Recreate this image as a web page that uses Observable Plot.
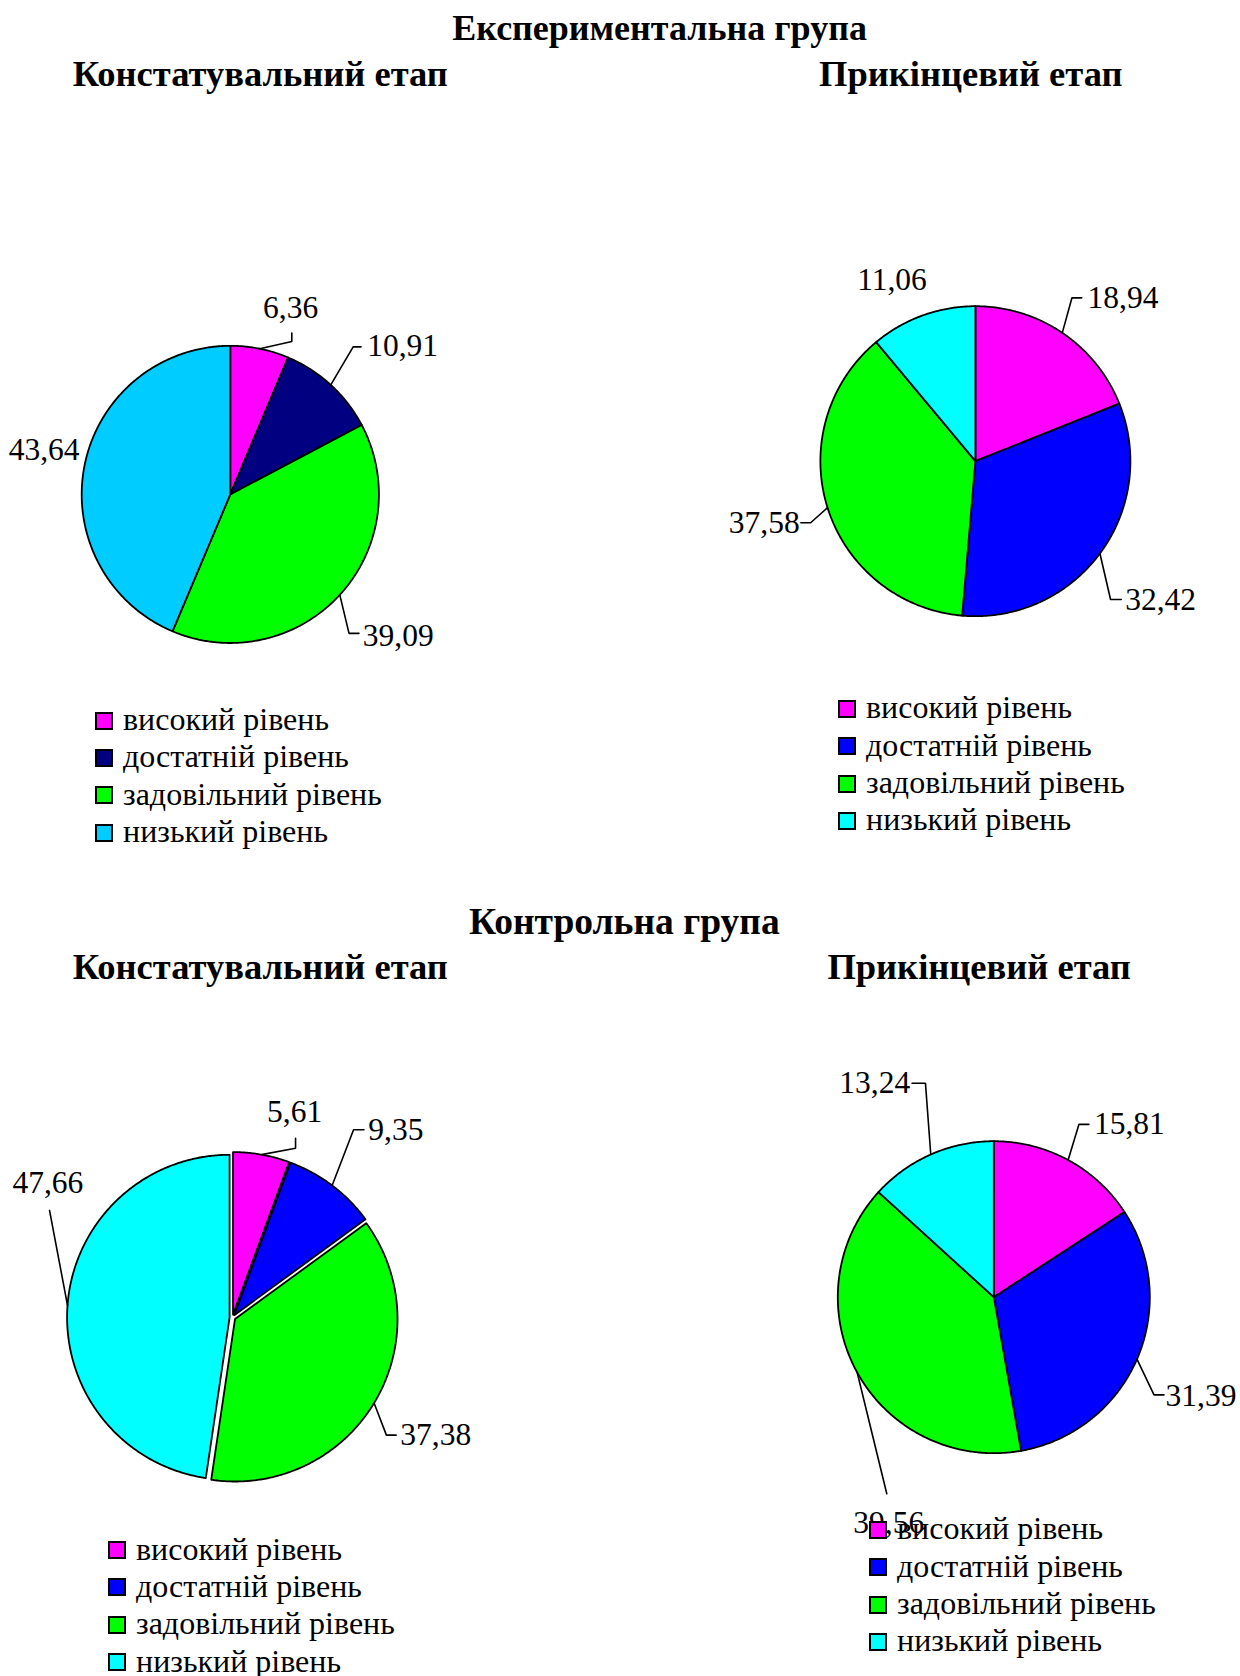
<!DOCTYPE html>
<html lang="uk">
<head>
<meta charset="utf-8">
<title>Рівні сформованості: експериментальна та контрольна групи</title>
<script src="https://cdn.jsdelivr.net/npm/d3@7"></script>
<script src="https://cdn.jsdelivr.net/npm/@observablehq/plot@0.6"></script>
<style>
  html, body { margin: 0; padding: 0; background: #fff; }
  #page {
    position: relative; width: 1240px; height: 1676px; overflow: hidden;
    font-family: "Liberation Serif", "Times New Roman", serif; color: #000;
  }
  .title { position: absolute; font-weight: bold; font-size: 36.5px; line-height: 1; white-space: nowrap; }
  .title.group { font-size: 36px; }
  .title.group.second { font-size: 37.5px; }
  .center { transform: translateX(-50%); }
  .panel { position: absolute; }
  .legend-row {
    position: absolute; display: flex; align-items: center; height: 38px;
    font-size: 32px; white-space: nowrap;
  }
  .swatch {
    box-sizing: border-box; width: 18px; height: 18px; border: 2px solid #000;
    margin-right: 10px; flex: none; position: relative; top: 1px;
  }
</style>
</head>
<body>
<div id="page"></div>
<script>
// Рівні сформованості (однакові для всіх діаграм)
const levels = ["високий рівень", "достатній рівень", "задовільний рівень", "низький рівень"];

// Експериментальна група, %
const egInitial = [6.36, 10.91, 39.09, 43.64];
const egFinal = [18.94, 32.42, 37.58, 11.06];

// Контрольна група, %
const cgInitial = [5.61, 9.35, 37.38, 47.66];
const cgFinal = [15.81, 31.39, 39.56, 13.24];

// Кольори секторів
const paletteEgInitial = ["#ff00ff", "#000080", "#00ff00", "#00ccff"];
const paletteDefault = ["#ff00ff", "#0000ff", "#00ff00", "#00ffff"];

const groupTitles = ["Експериментальна група", "Контрольна група"];
const stageTitles = ["Констатувальний етап", "Прикінцевий етап"];

const fmt = v => v.toFixed(2).replace(".", ",");
const FONT = "Liberation Serif, Times New Roman, serif";

// Розміщення діаграм на сторінці. Координати підписів задано в одиницях радіуса
// (y догори); path — ламана виноски від краю сектора до підпису.
const panels = [
  {
    values: egInitial, colors: paletteEgInitial, explode: 0,
    box: {left: 0, top: 250, width: 620, height: 450}, cx: 229.8, cy: 493.9, r: 148.6,
    labels: [
      {x: 0.406, y: 1.252, anchor: "middle", path: [[0.414, 1.029], [0.414, 1.086]]},
      {x: 0.921, y: 0.996, anchor: "start", path: [[0.827, 0.993], [0.880, 0.993]]},
      {x: 0.892, y: -0.950, anchor: "start", path: [[0.799, -0.935], [0.866, -0.935]]},
      {x: -1.014, y: 0.299, anchor: "end", path: null}
    ],
    legend: {left: 95, top: 719.5}
  },
  {
    values: egFinal, colors: paletteDefault, explode: 0,
    box: {left: 620, top: 230, width: 620, height: 420}, cx: 974.9, cy: 460.7, r: 155,
    labels: [
      {x: 0.724, y: 1.055, anchor: "start", path: [[0.623, 1.054], [0.686, 1.054]]},
      {x: 0.966, y: -0.897, anchor: "start", path: [[0.872, -0.892], [0.941, -0.892]]},
      {x: -1.134, y: -0.400, anchor: "end", path: [[-1.063, -0.397], [-1.126, -0.397]]},
      {x: -0.538, y: 1.172, anchor: "middle", path: null}
    ],
    legend: {left: 838, top: 707.7}
  },
  {
    values: cgInitial, colors: paletteDefault, explode: 0.018,
    box: {left: 0, top: 1080, width: 620, height: 420}, cx: 232, cy: 1317, r: 162.5,
    labels: [
      {x: 0.382, y: 1.265, anchor: "middle", path: [[0.388, 1.041], [0.388, 1.103]]},
      {x: 0.836, y: 1.155, anchor: "start", path: [[0.745, 1.155], [0.809, 1.155]]},
      {x: 1.033, y: -0.724, anchor: "start", path: [[0.947, -0.724], [1.007, -0.724]]},
      {x: -1.136, y: 0.826, anchor: "middle", path: [[-1.126, 0.659]]}
    ],
    legend: {left: 108, top: 1549}
  },
  {
    values: cgFinal, colors: paletteDefault, explode: 0,
    box: {left: 620, top: 1040, width: 620, height: 520}, cx: 993.3, cy: 1296.7, r: 156,
    labels: [
      {x: 0.642, y: 1.110, anchor: "start", path: [[0.546, 1.108], [0.610, 1.108]]},
      {x: 1.101, y: -0.630, anchor: "start", path: [[1.027, -0.626], [1.091, -0.626]]},
      {x: -0.673, y: -1.445, anchor: "middle", path: [[-0.686, -1.260]]},
      {x: -0.536, y: 1.373, anchor: "end", path: [[-0.438, 1.371], [-0.524, 1.371]]}
    ],
    legend: {left: 869, top: 1528.7}
  }
];

const page = document.getElementById("page");

function addTitle(text, left, top, cls) {
  const el = document.createElement("div");
  el.className = "title " + cls;
  el.style.left = left + "px";
  el.style.top = top + "px";
  el.textContent = text;
  page.appendChild(el);
}

function pieChart(p) {
  const rows = p.values.map((value, i) => ({level: levels[i], value}));
  const arcs = d3.pie().sort(null).value(d => d.value)(rows);

  // Сектори як замкнені багатокутники в одиницях радіуса
  const slicePoints = [];
  const leaderPoints = [];
  const labelRows = [];
  arcs.forEach((a, i) => {
    const level = a.data.level;
    const mid = (a.startAngle + a.endAngle) / 2;
    const ox = p.explode * Math.sin(mid), oy = p.explode * Math.cos(mid);
    const n = Math.max(2, Math.ceil((a.endAngle - a.startAngle) / (Math.PI / 360)));
    slicePoints.push({level, x: ox, y: oy});
    for (let k = 0; k <= n; k++) {
      const t = a.startAngle + (a.endAngle - a.startAngle) * k / n;
      slicePoints.push({level, x: ox + Math.sin(t), y: oy + Math.cos(t)});
    }
    const lab = p.labels[i];
    labelRows.push({x: lab.x, y: lab.y, anchor: lab.anchor, text: fmt(a.data.value)});
    if (lab.path) {
      leaderPoints.push({id: level, x: ox + Math.sin(mid), y: oy + Math.cos(mid)});
      lab.path.forEach(([x, y]) => leaderPoints.push({id: level, x, y}));
    }
  });

  const {left, top, width, height} = p.box;
  const x0 = (left - p.cx) / p.r, x1 = (left + width - p.cx) / p.r;
  const y0 = (p.cy - top - height) / p.r, y1 = (p.cy - top) / p.r;

  const textMark = anchor => Plot.text(labelRows.filter(d => d.anchor === anchor), {
    x: "x", y: "y", text: "text", textAnchor: anchor, lineAnchor: "middle",
    fontSize: 31.5, fontFamily: FONT, fill: "#000"
  });

  const svg = Plot.plot({
    width, height,
    margin: 0,
    x: {domain: [x0, x1], axis: null},
    y: {domain: [y0, y1], axis: null},
    color: {type: "ordinal", domain: levels, range: p.colors},
    style: {background: "transparent", overflow: "visible"},
    marks: [
      Plot.line(slicePoints, {
        x: "x", y: "y", z: "level", fill: "level", stroke: "#000",
        strokeWidth: 1.8, curve: "linear-closed", strokeLinejoin: "round"
      }),
      Plot.line(leaderPoints, {
        x: "x", y: "y", z: "id", stroke: "#000", strokeWidth: 1.6, strokeLinejoin: "miter"
      }),
      textMark("start"),
      textMark("middle"),
      textMark("end")
    ]
  });
  svg.classList.add("panel");
  svg.style.left = left + "px";
  svg.style.top = top + "px";
  page.appendChild(svg);

  // Легенда
  levels.forEach((lvl, i) => {
    const row = document.createElement("div");
    row.className = "legend-row";
    row.style.left = p.legend.left + "px";
    row.style.top = (p.legend.top + i * 37.4 - 19) + "px";
    const sw = document.createElement("span");
    sw.className = "swatch";
    sw.style.background = p.colors[i];
    const tx = document.createElement("span");
    tx.textContent = lvl;
    row.appendChild(sw);
    row.appendChild(tx);
    page.appendChild(row);
  });
}

panels.forEach(pieChart);

addTitle(groupTitles[0], 659.6, 10, "group center");
addTitle(stageTitles[0], 72.7, 56, "");
addTitle(stageTitles[1], 819, 56, "");
addTitle(groupTitles[1], 624.3, 903, "group second center");
addTitle(stageTitles[0], 72.7, 949, "");
addTitle(stageTitles[1], 827.4, 949, "");
</script>
</body>
</html>
